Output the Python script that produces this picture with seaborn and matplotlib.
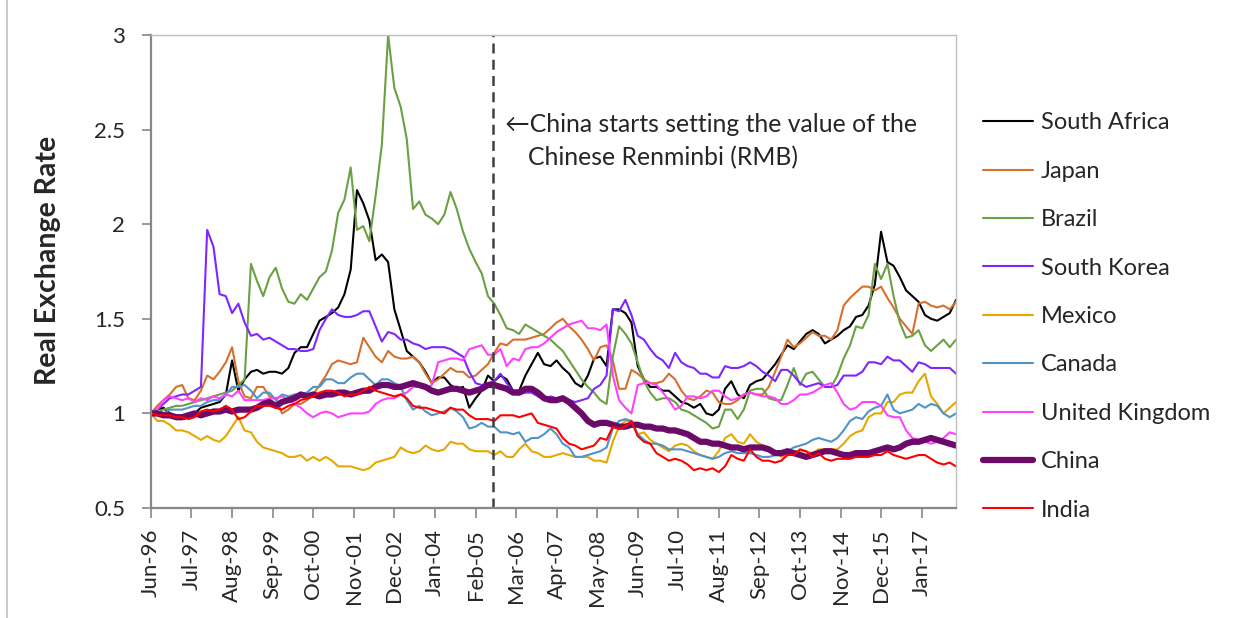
import numpy as np
import pandas as pd
import matplotlib
matplotlib.use("Agg")
import matplotlib.pyplot as plt
import matplotlib.dates as mdates
from matplotlib.ticker import FuncFormatter, MultipleLocator
from matplotlib.lines import Line2D
import seaborn as sns

# monthly index sampled every 2 months, Jun-96 .. Aug-17
dates = pd.date_range("1996-06-01", periods=130, freq="2MS")

south_africa = [
    1.00, 1.02, 1.03, 1.00, 0.97, 0.97, 0.98, 1.00, 1.03, 1.04, 1.05, 1.06, 1.10, 1.28, 1.12, 1.18, 1.22, 1.23, 1.21, 1.22, 1.22,
    1.21, 1.24, 1.32, 1.35, 1.35, 1.42, 1.49, 1.51, 1.53, 1.56, 1.63, 1.76, 2.18, 2.11, 2.02, 1.81, 1.84, 1.80, 1.55, 1.44, 1.33, 1.30,
    1.27, 1.22, 1.16, 1.19, 1.19, 1.15, 1.13, 1.14, 1.03, 1.08, 1.12, 1.20, 1.17, 1.20, 1.18, 1.12, 1.12, 1.20, 1.26, 1.32, 1.26, 1.25,
    1.28, 1.24, 1.21, 1.16, 1.14, 1.20, 1.29, 1.30, 1.25, 1.55, 1.55, 1.53, 1.48, 1.25, 1.18, 1.14, 1.14, 1.12, 1.12, 1.09, 1.06,
    1.05, 1.03, 1.05, 1.00, 0.99, 1.02, 1.13, 1.17, 1.10, 1.08, 1.15, 1.17, 1.18, 1.22, 1.26, 1.31, 1.36, 1.34, 1.38, 1.42, 1.44, 1.42,
    1.37, 1.39, 1.41, 1.44, 1.46, 1.51, 1.52, 1.57, 1.68, 1.96, 1.80, 1.78, 1.72, 1.65, 1.62, 1.59, 1.52, 1.50, 1.49, 1.51, 1.53, 1.60,
]
japan = [
    1.00, 1.04, 1.07, 1.10, 1.14, 1.15, 1.08, 1.07, 1.12, 1.20, 1.18, 1.22, 1.27, 1.35, 1.17, 1.09, 1.08, 1.14, 1.14, 1.09, 1.08,
    1.00, 1.02, 1.05, 1.05, 1.07, 1.10, 1.15, 1.20, 1.26, 1.28, 1.27, 1.26, 1.27, 1.40, 1.35, 1.30, 1.27, 1.33, 1.30, 1.29, 1.29, 1.30,
    1.27, 1.21, 1.16, 1.18, 1.21, 1.24, 1.22, 1.22, 1.19, 1.20, 1.23, 1.26, 1.32, 1.37, 1.36, 1.39, 1.39, 1.39, 1.40, 1.41, 1.42, 1.45,
    1.48, 1.50, 1.46, 1.43, 1.39, 1.34, 1.28, 1.35, 1.36, 1.28, 1.13, 1.13, 1.23, 1.21, 1.18, 1.16, 1.16, 1.17, 1.21, 1.18, 1.12,
    1.08, 1.07, 1.09, 1.12, 1.11, 1.06, 1.05, 1.05, 1.07, 1.10, 1.11, 1.10, 1.10, 1.14, 1.22, 1.30, 1.39, 1.35, 1.37, 1.40, 1.43, 1.41,
    1.41, 1.39, 1.44, 1.57, 1.61, 1.64, 1.67, 1.67, 1.65, 1.67, 1.61, 1.56, 1.50, 1.46, 1.42, 1.58, 1.59, 1.57, 1.56, 1.57, 1.55, 1.59,
]
brazil = [
    1.00, 1.00, 1.02, 1.03, 1.04, 1.04, 1.05, 1.06, 1.07, 1.08, 1.09, 1.10, 1.11, 1.12, 1.15, 1.18, 1.79, 1.70, 1.62, 1.72, 1.77,
    1.66, 1.59, 1.58, 1.63, 1.60, 1.66, 1.72, 1.75, 1.86, 2.06, 2.13, 2.30, 1.97, 1.99, 1.91, 2.15, 2.42, 3.00, 2.72, 2.62, 2.45, 2.08,
    2.12, 2.05, 2.03, 2.00, 2.05, 2.17, 2.08, 1.96, 1.87, 1.80, 1.74, 1.62, 1.58, 1.52, 1.45, 1.44, 1.42, 1.47, 1.45, 1.43, 1.41, 1.39,
    1.36, 1.33, 1.28, 1.23, 1.18, 1.14, 1.11, 1.07, 1.05, 1.30, 1.46, 1.42, 1.37, 1.27, 1.17, 1.11, 1.07, 1.08, 1.08, 1.06, 1.02,
    1.01, 0.99, 0.97, 0.95, 0.92, 0.93, 1.02, 1.02, 0.97, 1.02, 1.12, 1.13, 1.13, 1.08, 1.07, 1.07, 1.15, 1.24, 1.15, 1.21, 1.22, 1.18,
    1.14, 1.14, 1.20, 1.29, 1.36, 1.46, 1.45, 1.52, 1.79, 1.71, 1.79, 1.62, 1.48, 1.40, 1.41, 1.44, 1.36, 1.33, 1.36, 1.39, 1.35, 1.39,
]
south_korea = [
    1.00, 1.02, 1.05, 1.08, 1.09, 1.10, 1.10, 1.12, 1.14, 1.97, 1.88, 1.63, 1.62, 1.53, 1.58, 1.48, 1.41, 1.42, 1.39, 1.40, 1.38,
    1.36, 1.34, 1.34, 1.33, 1.33, 1.34, 1.44, 1.50, 1.55, 1.52, 1.51, 1.51, 1.52, 1.54, 1.54, 1.46, 1.38, 1.43, 1.42, 1.39, 1.39, 1.37,
    1.36, 1.34, 1.35, 1.35, 1.35, 1.34, 1.32, 1.30, 1.22, 1.16, 1.15, 1.16, 1.17, 1.21, 1.16, 1.12, 1.10, 1.11, 1.11, 1.09, 1.07, 1.09,
    1.08, 1.08, 1.07, 1.06, 1.07, 1.08, 1.13, 1.15, 1.20, 1.55, 1.54, 1.60, 1.52, 1.41, 1.39, 1.34, 1.30, 1.28, 1.24, 1.32, 1.27,
    1.25, 1.24, 1.21, 1.21, 1.19, 1.19, 1.25, 1.24, 1.24, 1.25, 1.27, 1.25, 1.22, 1.20, 1.17, 1.23, 1.23, 1.20, 1.16, 1.14, 1.15, 1.16,
    1.14, 1.14, 1.15, 1.20, 1.20, 1.20, 1.22, 1.27, 1.27, 1.26, 1.30, 1.28, 1.28, 1.25, 1.22, 1.27, 1.26, 1.24, 1.24, 1.24, 1.24, 1.21,
]
mexico = [
    1.00, 0.96, 0.96, 0.94, 0.91, 0.91, 0.90, 0.88, 0.86, 0.88, 0.86, 0.85, 0.88, 0.93, 0.98, 0.91, 0.90, 0.85, 0.82, 0.81, 0.80,
    0.79, 0.77, 0.77, 0.78, 0.75, 0.77, 0.75, 0.77, 0.75, 0.72, 0.72, 0.72, 0.71, 0.70, 0.71, 0.74, 0.75, 0.76, 0.77, 0.82, 0.80, 0.79,
    0.80, 0.83, 0.81, 0.80, 0.81, 0.85, 0.84, 0.84, 0.81, 0.80, 0.80, 0.80, 0.78, 0.80, 0.77, 0.77, 0.81, 0.84, 0.80, 0.79, 0.77, 0.77,
    0.78, 0.79, 0.78, 0.77, 0.77, 0.77, 0.75, 0.75, 0.74, 0.85, 0.93, 0.96, 0.96, 0.89, 0.90, 0.86, 0.84, 0.82, 0.80, 0.83, 0.84,
    0.83, 0.80, 0.78, 0.77, 0.76, 0.80, 0.87, 0.89, 0.85, 0.84, 0.89, 0.85, 0.83, 0.81, 0.80, 0.77, 0.78, 0.80, 0.80, 0.80, 0.79, 0.81,
    0.81, 0.81, 0.81, 0.84, 0.88, 0.90, 0.91, 0.98, 1.00, 1.00, 1.06, 1.06, 1.10, 1.11, 1.11, 1.17, 1.21, 1.09, 1.05, 1.00, 1.03, 1.06,
]
canada = [
    1.00, 1.00, 1.00, 1.02, 1.02, 1.02, 1.03, 1.04, 1.04, 1.06, 1.07, 1.07, 1.10, 1.14, 1.14, 1.15, 1.12, 1.08, 1.11, 1.11, 1.07,
    1.10, 1.09, 1.10, 1.10, 1.11, 1.14, 1.14, 1.18, 1.18, 1.16, 1.16, 1.19, 1.21, 1.21, 1.18, 1.15, 1.18, 1.18, 1.16, 1.14, 1.07, 1.02,
    1.04, 1.01, 0.99, 1.00, 1.01, 1.03, 1.01, 0.98, 0.92, 0.93, 0.95, 0.93, 0.93, 0.90, 0.90, 0.89, 0.90, 0.85, 0.87, 0.87, 0.89, 0.92,
    0.89, 0.84, 0.82, 0.77, 0.77, 0.78, 0.79, 0.80, 0.82, 0.92, 0.96, 0.97, 0.96, 0.89, 0.86, 0.84, 0.84, 0.83, 0.81, 0.81, 0.81,
    0.80, 0.79, 0.78, 0.77, 0.76, 0.77, 0.79, 0.80, 0.79, 0.79, 0.79, 0.78, 0.77, 0.77, 0.78, 0.78, 0.80, 0.82, 0.83, 0.84, 0.86, 0.87,
    0.86, 0.85, 0.87, 0.91, 0.96, 0.98, 0.97, 1.01, 1.03, 1.04, 1.10, 1.02, 1.00, 1.01, 1.02, 1.05, 1.03, 1.05, 1.04, 1.00, 0.98, 1.00,
]
united_kingdom = [
    1.00, 1.02, 1.07, 1.09, 1.08, 1.07, 1.08, 1.06, 1.08, 1.07, 1.09, 1.08, 1.10, 1.09, 1.12, 1.07, 1.07, 1.07, 1.07, 1.08, 1.08,
    1.09, 1.07, 1.05, 1.03, 1.00, 0.98, 1.00, 1.01, 1.00, 0.98, 0.99, 1.00, 1.00, 1.00, 1.01, 1.05, 1.07, 1.08, 1.08, 1.10, 1.11, 1.14,
    1.14, 1.13, 1.15, 1.27, 1.28, 1.29, 1.29, 1.28, 1.34, 1.35, 1.36, 1.31, 1.31, 1.34, 1.25, 1.29, 1.28, 1.34, 1.35, 1.35, 1.37, 1.40,
    1.43, 1.45, 1.47, 1.48, 1.49, 1.45, 1.45, 1.44, 1.47, 1.20, 1.07, 1.03, 1.00, 1.15, 1.16, 1.16, 1.15, 1.11, 1.07, 1.02, 1.04,
    1.09, 1.09, 1.08, 1.09, 1.12, 1.12, 1.09, 1.07, 1.08, 1.10, 1.11, 1.10, 1.09, 1.09, 1.08, 1.05, 1.05, 1.07, 1.10, 1.10, 1.11, 1.13,
    1.15, 1.16, 1.11, 1.05, 1.02, 1.03, 1.06, 1.06, 1.06, 1.04, 0.99, 0.98, 0.98, 0.91, 0.87, 0.86, 0.85, 0.84, 0.85, 0.87, 0.90, 0.89,
]
china = [
    1.00, 1.00, 0.99, 0.99, 0.98, 0.98, 0.99, 1.00, 0.99, 1.00, 1.01, 1.01, 1.02, 1.01, 1.02, 1.02, 1.02, 1.03, 1.05, 1.06, 1.04,
    1.06, 1.07, 1.08, 1.10, 1.09, 1.10, 1.09, 1.10, 1.10, 1.11, 1.11, 1.10, 1.11, 1.12, 1.12, 1.14, 1.15, 1.15, 1.14, 1.14, 1.15, 1.16,
    1.15, 1.14, 1.12, 1.11, 1.12, 1.13, 1.13, 1.12, 1.11, 1.12, 1.13, 1.15, 1.15, 1.14, 1.13, 1.11, 1.11, 1.13, 1.13, 1.11, 1.08, 1.07,
    1.07, 1.08, 1.06, 1.03, 1.00, 0.96, 0.94, 0.95, 0.95, 0.94, 0.93, 0.93, 0.94, 0.94, 0.93, 0.93, 0.92, 0.92, 0.91, 0.91, 0.90,
    0.89, 0.87, 0.85, 0.85, 0.84, 0.84, 0.83, 0.82, 0.82, 0.81, 0.82, 0.82, 0.82, 0.81, 0.79, 0.79, 0.80, 0.79, 0.78, 0.77, 0.78, 0.79,
    0.80, 0.80, 0.79, 0.78, 0.78, 0.79, 0.79, 0.79, 0.80, 0.81, 0.82, 0.81, 0.82, 0.84, 0.85, 0.85, 0.86, 0.87, 0.86, 0.85, 0.84, 0.83,
]
india = [
    1.00, 0.99, 0.99, 0.99, 0.98, 0.98, 0.97, 0.98, 1.01, 1.02, 1.01, 1.02, 1.04, 1.02, 0.97, 0.98, 1.01, 1.04, 1.04, 1.04, 1.03,
    1.02, 1.04, 1.05, 1.07, 1.08, 1.09, 1.11, 1.12, 1.12, 1.11, 1.09, 1.10, 1.10, 1.12, 1.14, 1.12, 1.11, 1.10, 1.09, 1.10, 1.08, 1.04,
    1.03, 1.03, 1.02, 1.01, 1.00, 1.03, 1.02, 1.02, 0.99, 0.97, 0.97, 0.97, 0.96, 0.99, 0.99, 0.99, 0.98, 0.99, 1.00, 0.95, 0.94, 0.93,
    0.92, 0.87, 0.84, 0.83, 0.81, 0.82, 0.83, 0.87, 0.86, 0.93, 0.92, 0.93, 0.96, 0.88, 0.85, 0.84, 0.79, 0.77, 0.75, 0.76, 0.75,
    0.73, 0.70, 0.71, 0.70, 0.71, 0.69, 0.72, 0.78, 0.76, 0.75, 0.81, 0.77, 0.75, 0.75, 0.74, 0.75, 0.78, 0.78, 0.81, 0.80, 0.77, 0.79,
    0.76, 0.75, 0.76, 0.76, 0.76, 0.77, 0.77, 0.77, 0.78, 0.78, 0.80, 0.78, 0.77, 0.76, 0.77, 0.78, 0.78, 0.76, 0.74, 0.73, 0.74, 0.72,
]

series = [
    ("South Africa", south_africa, "#000000", 1.5),
    ("Japan", japan, "#D4712F", 1.5),
    ("Brazil", brazil, "#6BA043", 1.5),
    ("South Korea", south_korea, "#7F26FF", 1.5),
    ("Mexico", mexico, "#E6A800", 1.5),
    ("Canada", canada, "#4F93C9", 1.5),
    ("United Kingdom", united_kingdom, "#FF40FF", 1.5),
    ("China", china, "#6B0A69", 4.5),
    ("India", india, "#FF0000", 1.5),
]

sns.set_theme(style="white")
plt.rcParams["font.family"] = ["Lato", "DejaVu Sans"]

W, H = 1233, 618
fig = plt.figure(figsize=(W / 100, H / 100), dpi=100)
ax = fig.add_axes([151 / W, 1 - 508 / H, (956 - 151) / W, (508 - 35) / H])

for name, vals, color, lw in series:
    sns.lineplot(x=dates, y=vals, color=color, linewidth=lw, label=name, ax=ax)

# revaluation marker
ax.axvline(pd.Timestamp("2005-07-25"), color="#404040", linestyle=(0, (4, 2.5)), linewidth=1.8)
fig.text(505 / W, 1 - 124 / H, "\u2190China starts setting the value of the",
         fontsize=17.8, va="center", ha="left", family=["Lato", "DejaVu Sans"])
fig.text(528 / W, 1 - 158 / H, "Chinese Renminbi (RMB)",
         fontsize=17.8, va="center", ha="left")

ax.set_xlim(dates[0], dates[-1])
ax.set_ylim(0.5, 3)
ax.yaxis.set_major_locator(MultipleLocator(0.5))
ax.yaxis.set_major_formatter(FuncFormatter(lambda v, p: f"{v:g}"))
ticks = pd.date_range("1996-06-01", "2017-08-01", freq="13MS")
ax.set_xticks(ticks)
ax.xaxis.set_major_formatter(mdates.DateFormatter("%b-%y"))
ax.tick_params(axis="x", rotation=90, labelsize=16, length=7, width=1.2,
               color="#888888", direction="out", pad=8, bottom=True)
ax.tick_params(axis="y", labelsize=16, length=6.5, width=1.2,
               color="#888888", direction="out", pad=12, left=True)
ax.set_xlabel("")
ax.set_ylabel("Real Exchange Rate", fontsize=20.5, fontweight="bold")
ax.yaxis.set_label_coords(-0.112, 0.524)

for side in ["left", "bottom"]:
    ax.spines[side].set_color("#888888")
    ax.spines[side].set_linewidth(1.6)
for side in ["top", "right"]:
    ax.spines[side].set_color("#BFBFBF")
    ax.spines[side].set_linewidth(1.0)
ax.grid(False)

ax.legend(loc="center left", bbox_to_anchor=(983 / W, 1 - 316.5 / H),
          bbox_transform=fig.transFigure, frameon=False, fontsize=17,
          borderpad=0, borderaxespad=0, handlelength=2.1, handletextpad=0.35,
          labelspacing=1.16)

fig.add_artist(Line2D([7 / W, 7 / W], [0, 1], transform=fig.transFigure,
                      color="#BFBFBF", linewidth=1.2))

fig.savefig("out.png", dpi=100)
